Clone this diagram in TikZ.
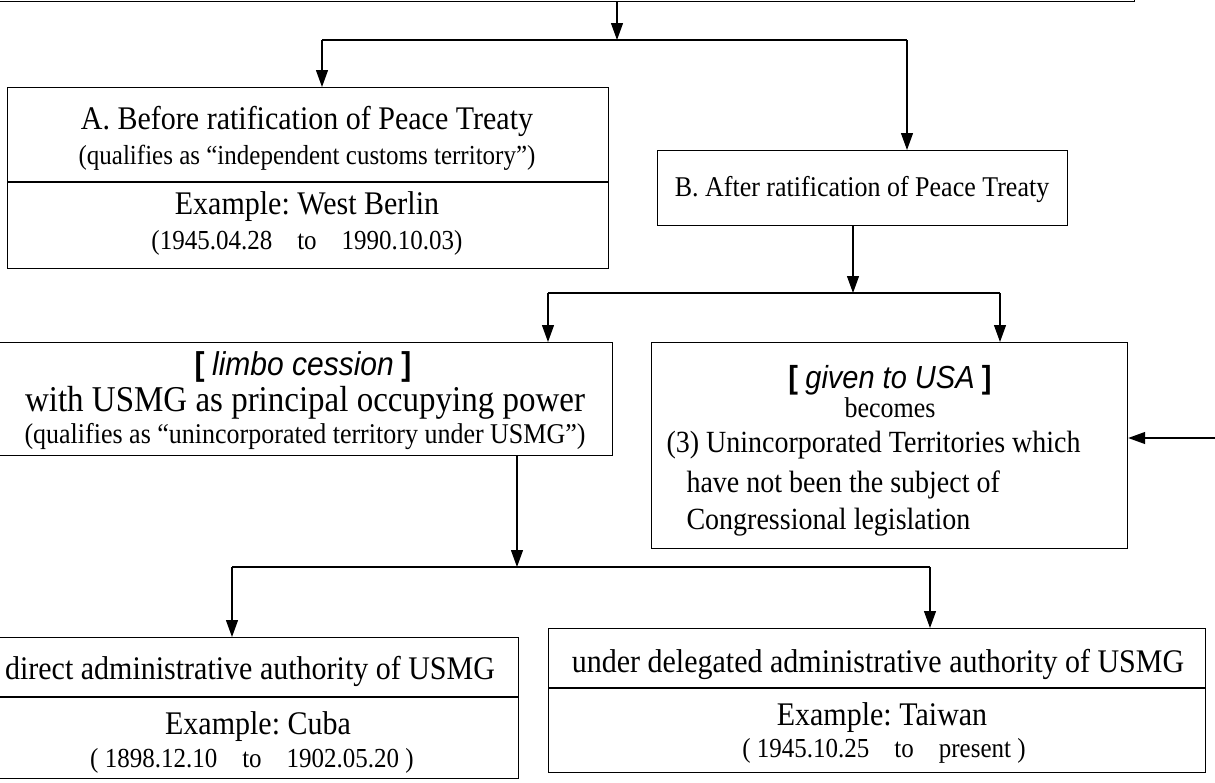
\documentclass[tikz,border=0pt]{standalone}
\usepackage{graphicx}
\usepackage{fontspec}
\setmainfont{Liberation Serif}
\newfontfamily\arialfont{Liberation Sans}
\usetikzlibrary{arrows.meta,positioning}
\frenchspacing

\newcommand{\tall}[1]{\scalebox{1}[1.1]{#1}}
\newcommand{\bracketed}[1]{{\arialfont\bfseries[} {\arialfont\itshape #1} {\arialfont\bfseries]}}

\tikzset{
	box/.style={draw, line width=1.2pt, inner sep=0pt, anchor=north west},
	link/.style={line width=1.2pt},
	arr/.style={line width=1.2pt, -{Triangle[length=17pt,width=12pt]}},
	big/.style={font=\fontsize{30}{34}\selectfont, anchor=base},
	small/.style={font=\fontsize{25}{30}\selectfont, anchor=base},
}

\begin{document}
\begin{tikzpicture}[x=1pt,y=-1pt]
	\useasboundingbox (0,0) rectangle (1215,782);
	
	% boxes
	\node[box, minimum width=1160pt, minimum height=80pt, anchor=south east] (top) at (1135,2) {};
	\node[box, minimum width=601pt, minimum height=181pt] (boxA) at (7,87) {};
	\node[box, minimum width=410pt, minimum height=75pt] (boxB) at (657,150) {};
	\node[box, minimum width=617pt, minimum height=113pt] (boxC) at (-5,342) {};
	\node[box, minimum width=476pt, minimum height=206pt] (boxD) at (651,342) {};
	\node[box, minimum width=523pt, minimum height=141pt] (boxE) at (-5,637) {};
	\node[box, minimum width=657pt, minimum height=144pt] (boxF) at (548,628) {};
	
	% dividers
	\coordinate (divA) at (0,182);
	\coordinate (divE) at (0,697);
	\coordinate (divF) at (0,688);
	\draw[link] (boxA.west |- divA) -- (boxA.east |- divA);
	\draw[link] (boxE.west |- divE) -- (boxE.east |- divE);
	\draw[link] (boxF.west |- divF) -- (boxF.east |- divF);
	
	% texts
	\node[big] (titleA) at (307,129) {\tall{A. Before ratification of Peace Treaty}};
	\node[small] (qualA) at (307,164) {\tall{(qualifies as “independent customs territory”)}};
	\node[big] (exA) at (307,214) {\tall{Example: West Berlin}};
	\node[small] (dateA) at (307,249) {\tall{(1945.04.28\quad to\quad 1990.10.03)}};
	
	\node[big, font=\fontsize{26}{30}\selectfont] (titleB) at (862,196) {\tall{B. After ratification of Peace Treaty}};
	
	\node[big] (tagC) at (303,375) {\tall{\bracketed{limbo cession}}};
	\node[big, font=\fontsize{33}{38}\selectfont] (titleC) at (305,411) {\tall{with USMG as principal occupying power}};
	\node[small, font=\fontsize{26}{30}\selectfont] (qualC) at (305,443) {\tall{(qualifies as “unincorporated territory under USMG”)}};
	
	\node[big, font=\fontsize{29}{34}\selectfont] (tagD) at (890,388) {\tall{\bracketed{given to USA}}};
	\node[small, font=\fontsize{26}{30}\selectfont] (becD) at (890,417) {\tall{becomes}};
	\node[big, font=\fontsize{28}{32}\selectfont, anchor=base west] (lineD1) at (663,452) {\tall{(3) Unincorporated Territories which}};
	\node[big, font=\fontsize{28}{32}\selectfont, anchor=base west] (lineD2) at (683,492) {\tall{have not been the subject of}};
	\node[big, font=\fontsize{28}{32}\selectfont, anchor=base west] (lineD3) at (683,529) {\tall{Congressional legislation}};
	
	\node[big] (titleE) at (250,679) {\tall{direct administrative authority of USMG}};
	\node[big] (exE) at (258,734) {\tall{Example: Cuba}};
	\node[small] (dateE) at (252,767) {\tall{( 1898.12.10\quad to\quad 1902.05.20 )}};
	
	\node[big] (titleF) at (878,672) {\tall{under delegated administrative authority of USMG}};
	\node[big] (exF) at (882,725) {\tall{Example: Taiwan}};
	\node[small] (dateF) at (884,757) {\tall{( 1945.10.25\quad to\quad present )}};
	
	% connectors
	\coordinate (splitAB) at (617,40);
	\coordinate (toA) at (322,40);
	\coordinate (toB) at (907,40);
	\draw[arr] (top.south -| splitAB) -- (splitAB);
	\draw[link] (toA) -- (toB);
	\draw[arr] (toA) -- (toA |- boxA.north);
	\draw[arr] (toB) -- (toB |- boxB.north);
	
	\coordinate (splitCD) at (853,293);
	\coordinate (toC) at (548,293);
	\coordinate (toD) at (1000,293);
	\draw[arr] (boxB.south -| splitCD) -- (splitCD);
	\draw[link] (toC) -- (toD);
	\draw[arr] (toC) -- (toC |- boxC.north);
	\draw[arr] (toD) -- (toD |- boxD.north);
	
	\coordinate (fromRight) at (1215,438);
	\draw[arr] (fromRight) -- (fromRight -| boxD.east);
	
	\coordinate (splitEF) at (517,567);
	\coordinate (toE) at (232,567);
	\coordinate (toF) at (930,567);
	\draw[arr] (boxC.south -| splitEF) -- (splitEF);
	\draw[link] (toE) -- (toF);
	\draw[arr] (toE) -- (toE |- boxE.north);
	\draw[arr] (toF) -- (toF |- boxF.north);
	
\end{tikzpicture}
\end{document}
